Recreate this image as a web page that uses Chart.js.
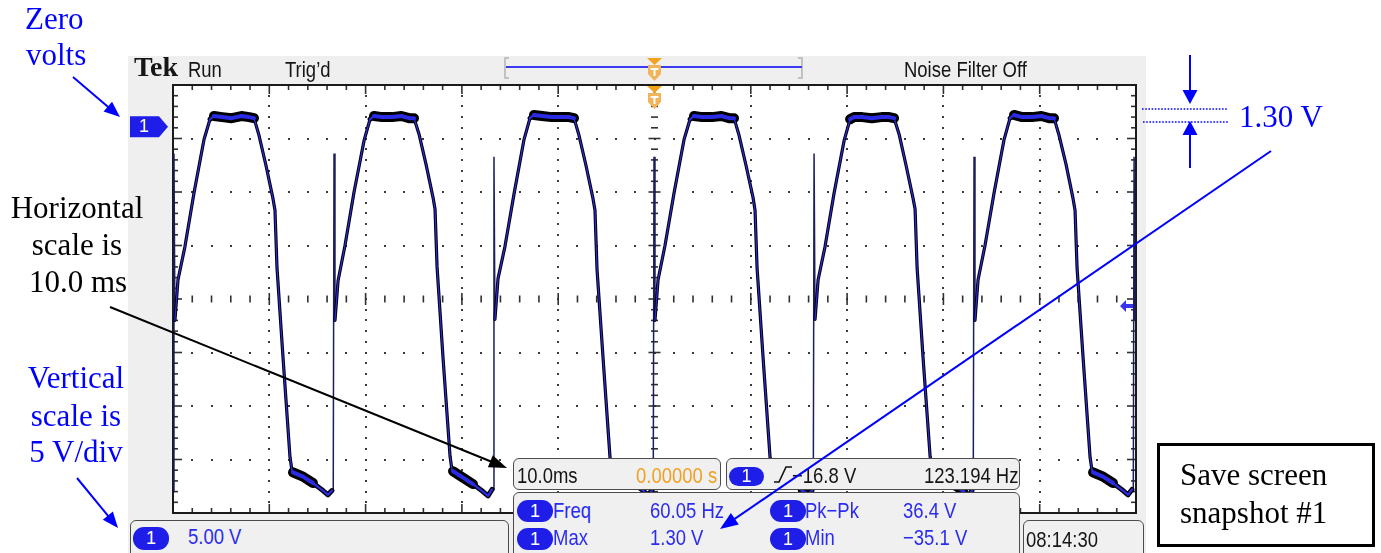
<!DOCTYPE html>
<html><head><meta charset="utf-8"><title>Tek scope snapshot</title>
<script src="https://cdn.jsdelivr.net/npm/chart.js@4.4.1/dist/chart.umd.min.js"></script>
<style>
html,body{margin:0;padding:0;background:#fff;}
#wrap{position:relative;width:1381px;height:553px;overflow:hidden;background:#fff;}
.abs{position:absolute;}
#panel{left:128px;top:56px;width:1018px;height:497px;background:#efefef;z-index:0;}
#c{position:absolute;left:0;top:0;z-index:1;}
.box{position:absolute;background:#f0f0f0;border:1.5px solid #4c4c4c;border-radius:6px;box-sizing:border-box;z-index:2;}
.t{position:absolute;white-space:nowrap;font-family:"Liberation Sans",Arial,sans-serif;font-size:21px;line-height:21px;transform:scale(.88,1.06);transform-origin:0 0;z-index:4;color:#151515;}
.tr{transform-origin:100% 0;}
.b{color:#2b2bf0;}
.o{color:#f0a020;}
.oval{position:absolute;background:#1e1ee8;border-radius:11px;color:#fff;font-family:"Liberation Sans",Arial,sans-serif;font-size:18px;text-align:center;z-index:4;}
.ann{position:absolute;white-space:nowrap;font-family:"Liberation Serif","Times New Roman",serif;font-size:31px;line-height:31px;z-index:7;}
.ab{color:#0000ff;}
.ak{color:#000;}
#ov{position:absolute;left:0;top:0;z-index:6;}
</style></head>
<body>
<div id="wrap">
  <div id="panel" class="abs"></div>
  <canvas id="c" width="1381" height="553"></canvas>

  <!-- scope readout boxes -->
  <div class="box" style="left:130px;top:520px;width:379px;height:42px"></div>
  <div class="box" style="left:513px;top:458px;width:208px;height:32px"></div>
  <div class="box" style="left:726px;top:458px;width:294px;height:32px"></div>
  <div class="box" style="left:513px;top:492px;width:507px;height:70px"></div>
  <div class="box" style="left:1023px;top:520px;width:121px;height:42px"></div>

  <div class="oval" style="left:133px;top:527px;width:36px;height:23px;line-height:23px">1</div>
  <div class="oval" style="left:517px;top:500px;width:36px;height:22px;line-height:22px">1</div>
  <div class="oval" style="left:517px;top:528px;width:36px;height:22px;line-height:22px">1</div>
  <div class="oval" style="left:770px;top:500px;width:36px;height:22px;line-height:22px">1</div>
  <div class="oval" style="left:770px;top:528px;width:36px;height:22px;line-height:22px">1</div>
  <div class="oval" style="left:729px;top:467px;width:35px;height:19px;line-height:19px">1</div>
  <div id="chMark" class="oval" style="left:130px;top:116px;width:28px;height:21px;line-height:21px;background:transparent;border-radius:0">1</div>

  <!-- top bar -->
  <div class="abs" style="left:134px;top:52.5px;font:bold 28px/28px 'Liberation Serif',serif;color:#161616;z-index:4">Tek</div>
  <div class="t" style="left:188px;top:58.2px">Run</div>
  <div class="t" style="left:285px;top:58.2px">Trig’d</div>
  <div class="t" style="left:904px;top:58.2px">Noise Filter Off</div>

  <!-- readouts -->
  <div class="t" style="left:517px;top:464.2px">10.0ms</div>
  <div class="t tr o" style="right:664px;top:464.2px">0.00000 s</div>
  <div class="t" style="left:792px;top:464.2px">−16.8 V</div>
  <div class="t tr" style="right:363px;top:464.2px">123.194 Hz</div>
  <div class="t b" style="left:188px;top:525.2px">5.00 V</div>
  <div class="t b" style="left:553px;top:499.2px">Freq</div>
  <div class="t b" style="left:650px;top:499.2px">60.05 Hz</div>
  <div class="t b" style="left:805px;top:499.2px">Pk−Pk</div>
  <div class="t b" style="left:903px;top:499.2px">36.4 V</div>
  <div class="t b" style="left:553px;top:526.2px">Max</div>
  <div class="t b" style="left:650px;top:526.2px">1.30 V</div>
  <div class="t b" style="left:805px;top:526.2px">Min</div>
  <div class="t b" style="left:903px;top:526.2px">−35.1 V</div>
  <div class="t" style="left:1026px;top:528.2px">08:14:30</div>

  <!-- annotations -->
  <div class="ann ab" style="left:25px;top:3.1px">Zero</div>
  <div class="ann ab" style="left:26px;top:39.1px">volts</div>
  <div class="ann ak" style="left:-73px;width:300px;text-align:center;top:192.1px">Horizontal</div>
  <div class="ann ak" style="left:-73px;width:300px;text-align:center;top:229.1px">scale is</div>
  <div class="ann ak" style="left:-72px;width:300px;text-align:center;top:266.1px">10.0 ms</div>
  <div class="ann ab" style="left:-74px;width:300px;text-align:center;top:362.1px">Vertical</div>
  <div class="ann ab" style="left:-74px;width:300px;text-align:center;top:400.1px">scale is</div>
  <div class="ann ab" style="left:-74px;width:300px;text-align:center;top:436.1px">5 V/div</div>
  <div class="ann ab" style="left:1239px;top:101.1px">1.30 V</div>
  <div class="abs" style="left:1157px;top:443px;width:218px;height:104px;border:3px solid #000;box-sizing:border-box;background:#fff;z-index:5"></div>
  <div class="ann ak" style="left:1180px;top:459.1px">Save screen</div>
  <div class="ann ak" style="left:1180px;top:497.1px">snapshot #1</div>

  <svg id="ov" width="1381" height="553"></svg>
</div>
<script>
// ---------- axis setup (time in ms relative to trigger, volts) ----------
const xMajorTicks = [-50, -40, -30, -20, -10, 0, 10, 20, 30, 40, 50];
const yMajorTicks = [-36, -31, -26, -21, -16, -11, -6, -1, 4];
const minorPerDiv = 5;
const triggerTimeMs = 0;
const triggerLevelV = -16.8;
const groundLevelV = 0;
const centerLevelV = -16;

// ---------- channel 1 trace, read cycle by cycle ----------
const c1T = [-49.80,-49.48,-48.76,-47.82,-46.78,-46.16,-45.75,-44.90,-43.90,-42.90,-42.10,-41.59,-41.07,-40.35,-39.62,-39.41,-39.20,-38.58,-37.85,-37.65,-37.54,-36.50,-35.47,-34.43,-33.91,-33.49];
const c1V = [-18.0,-14.2,-11.1,-6.1,-1.1,0.8,1.1,1.0,0.9,1.1,1.0,0.9,-0.7,-3.5,-6.6,-7.7,-13.1,-21.4,-30.8,-32.0,-32.2,-32.6,-33.2,-33.9,-34.3,-33.9];
const c2T = [-33.18,-32.86,-32.14,-31.20,-30.16,-29.54,-29.13,-28.28,-27.28,-26.28,-25.48,-24.97,-24.45,-23.73,-23.00,-22.79,-22.58,-21.96,-21.23,-21.03,-20.92,-19.88,-18.85,-17.81,-17.29,-16.87];
const c2V = [-18.0,-14.3,-11.0,-6.0,-1.2,0.8,1.1,1.0,1.0,1.1,0.9,0.9,-0.6,-3.4,-6.5,-7.6,-13.0,-21.5,-30.7,-32.0,-32.1,-32.7,-33.3,-34.0,-34.4,-33.8];
const c3T = [-16.57,-16.25,-15.53,-14.59,-13.55,-12.93,-12.52,-11.67,-10.67,-9.67,-8.87,-8.36,-7.84,-7.12,-6.39,-6.18,-5.97,-5.35,-4.62,-4.42,-4.31,-3.27,-2.24,-1.20,-0.68,-0.26];
const c3V = [-17.9,-14.1,-11.1,-6.2,-1.1,0.9,1.2,1.1,1.0,1.0,1.0,0.9,-0.7,-3.5,-6.6,-7.7,-13.2,-21.4,-30.8,-31.9,-32.2,-32.6,-33.2,-33.9,-34.3,-33.9];
const c4T = [0.05,0.37,1.09,2.03,3.07,3.69,4.10,4.95,5.95,6.95,7.75,8.26,8.78,9.50,10.23,10.44,10.65,11.27,12.00,12.20,12.31,13.35,14.38,15.42,15.94,16.36];
const c4V = [-18.0,-14.2,-11.0,-6.1,-1.1,0.8,1.1,1.0,1.0,1.1,0.9,0.9,-0.7,-3.5,-6.5,-7.7,-13.1,-21.4,-30.8,-32.0,-32.2,-32.7,-33.2,-34.0,-34.3,-33.9];
const c5T = [16.67,16.99,17.71,18.65,19.69,20.31,20.72,21.57,22.57,23.57,24.37,24.88,25.40,26.12,26.85,27.06,27.27,27.89,28.62,28.82,28.93,29.97,31.00,32.04,32.56,32.98];
const c5V = [-17.9,-14.2,-11.1,-6.1,-1.2,0.8,1.0,1.0,0.9,1.0,1.0,0.9,-0.6,-3.5,-6.6,-7.6,-13.1,-21.5,-30.7,-32.0,-32.2,-32.6,-33.3,-33.9,-34.4,-33.9];
const c6T = [33.28,33.60,34.32,35.26,36.30,36.92,37.33,38.18,39.18,40.18,40.98,41.49,42.01,42.73,43.46,43.67,43.88,44.50,45.23,45.43,45.54,46.58,47.61,48.65,49.17,49.59];
const c6V = [-18.0,-14.2,-11.0,-6.1,-1.1,0.9,1.2,1.0,1.0,1.1,0.9,0.9,-0.7,-3.4,-6.6,-7.7,-13.1,-21.4,-30.8,-32.0,-32.2,-32.6,-33.2,-33.9,-34.3,-33.8];

// thin switching spikes at each cycle start
const spikeTimeMs = [-49.90, -33.28, -16.67, -0.05, 16.57, 33.18, 49.80];
const spikeFromV  = [-34.0, -33.9, -33.8, -33.9, -33.9, -33.9, -33.8];
const spikePeakV  = [-2.4, -2.4, -2.7, -2.7, -2.4, -2.7, -2.7];
const spikeToV    = [-18.0, -18.0, -17.9, -18.0, -17.9, -18.0, -18.0];

// ---------- build datasets ----------
const cycles = [[c1T,c1V],[c2T,c2V],[c3T,c3V],[c4T,c4V],[c5T,c5V],[c6T,c6V]];
function tracePoints(){
  const pts = [];
  cycles.forEach(([t,v])=>{
    t.forEach((tt,i)=>pts.push({x:tt, y:v[i]}));
    pts.push({x:t[t.length-1], y:null});
  });
  return pts;
}
const spikePts = [];
spikeTimeMs.forEach((t,i)=>{
  spikePts.push({x:t-0.08, y:spikeFromV[i]}, {x:t, y:spikePeakV[i]}, {x:t+0.1, y:spikeToV[i]}, {x:t+0.1, y:null});
});
function segW(flat, mid, steep){
  return c => {
    const dx = Math.abs(c.p1.x - c.p0.x), dy = Math.abs(c.p1.y - c.p0.y);
    const a = Math.atan2(dy, dx);
    return a < 0.6 ? flat : (a < 1.2 ? mid : steep);
  };
}

function line(ctx,x1,y1,x2,y2){ctx.beginPath();ctx.moveTo(x1,y1);ctx.lineTo(x2,y2);ctx.stroke();}

const graticule = {
  id:'graticule',
  beforeDatasetsDraw(chart){
    const {ctx, chartArea:a, scales:{x,y}} = chart;
    ctx.save();
    ctx.fillStyle = '#ffffff';
    ctx.fillRect(a.left, a.top, a.right-a.left, a.bottom-a.top);
    const xs = xMajorTicks.map(v=>x.getPixelForValue(v));
    const ys = yMajorTicks.map(v=>y.getPixelForValue(v));
    const xMin = [], yMin = [];
    for (let i=0;i<xs.length-1;i++) for (let k=0;k<minorPerDiv;k++) xMin.push(xs[i]+(xs[i+1]-xs[i])*k/minorPerDiv);
    xMin.push(xs[xs.length-1]);
    for (let i=0;i<ys.length-1;i++) for (let k=0;k<minorPerDiv;k++) yMin.push(ys[i]+(ys[i+1]-ys[i])*k/minorPerDiv);
    yMin.push(ys[ys.length-1]);
    const cx = x.getPixelForValue(triggerTimeMs), cy = y.getPixelForValue(centerLevelV);
    ctx.fillStyle = '#3a3a3a';
    xs.slice(1,-1).forEach(px=>{
      if (Math.abs(px-cx)<1) return;
      yMin.forEach(py=>ctx.fillRect(Math.round(px)-1, Math.round(py)-1, 2, 2));
    });
    ys.slice(1,-1).forEach(py=>{
      if (Math.abs(py-cy)<1) return;
      xMin.forEach(px=>ctx.fillRect(Math.round(px)-1, Math.round(py)-1, 2, 2));
    });
    ctx.strokeStyle = '#303030'; ctx.lineWidth = 1.6;
    xMin.forEach((px,i)=>{ const h = (i%minorPerDiv===0)?6:3.5; line(ctx,px,cy-h,px,cy+h); });
    yMin.forEach((py,i)=>{ const h = (i%minorPerDiv===0)?6:3.5; line(ctx,cx-h,py,cx+h,py); });
    xMin.forEach((px,i)=>{ const L = (i%minorPerDiv===0)?9:5; line(ctx,px,a.top,px,a.top+L); line(ctx,px,a.bottom,px,a.bottom-L); });
    yMin.forEach((py,i)=>{ const L = (i%minorPerDiv===0)?9:5; line(ctx,a.left,py,a.left+L,py); line(ctx,a.right,py,a.right-L,py); });
    ctx.lineWidth = 2; ctx.strokeStyle = '#1a1a1a';
    ctx.strokeRect(a.left, a.top, a.right-a.left, a.bottom-a.top);
    ctx.restore();
  },
  afterDraw(chart){
    const {ctx, chartArea:a, scales:{x,y}} = chart;
    ctx.save();
    // record-view bar
    ctx.strokeStyle = '#b4b4b4'; ctx.lineWidth = 1.5;
    ctx.beginPath(); ctx.moveTo(509,58); ctx.lineTo(505,58); ctx.lineTo(505,78); ctx.lineTo(509,78); ctx.stroke();
    ctx.beginPath(); ctx.moveTo(798,58); ctx.lineTo(802,58); ctx.lineTo(802,78); ctx.lineTo(798,78); ctx.stroke();
    ctx.strokeStyle = '#3a3aee'; ctx.lineWidth = 2; line(ctx,506,67,802,67);
    // trigger position markers
    const tx = x.getPixelForValue(triggerTimeMs);
    [58, a.top+1].forEach(top=>{
      ctx.fillStyle = '#f3a21c';
      ctx.beginPath(); ctx.moveTo(tx-7.5,top); ctx.lineTo(tx+7.5,top); ctx.lineTo(tx,top+7); ctx.closePath(); ctx.fill();
      ctx.fillStyle = '#f2b458';
      ctx.beginPath(); ctx.moveTo(tx-6.5,top+7); ctx.lineTo(tx+6.5,top+7); ctx.lineTo(tx+6.5,top+16); ctx.lineTo(tx,top+23); ctx.lineTo(tx-6.5,top+16); ctx.closePath(); ctx.fill();
      ctx.fillStyle = '#ffffff';
      ctx.fillRect(tx-4, top+10, 8, 2); ctx.fillRect(tx-1, top+10, 2, 8);
    });
    // channel 1 ground marker
    const gy = y.getPixelForValue(groundLevelV) - 1;
    ctx.fillStyle = '#1e1ee8';
    ctx.beginPath(); ctx.moveTo(130,gy-10.5); ctx.lineTo(159,gy-10.5); ctx.lineTo(168,gy); ctx.lineTo(159,gy+10.5); ctx.lineTo(130,gy+10.5); ctx.closePath(); ctx.fill();
    // trigger level marker
    const ty = y.getPixelForValue(triggerLevelV) - 1.5;
    ctx.fillStyle = '#3535ee';
    ctx.beginPath(); ctx.moveTo(1120,ty); ctx.lineTo(1126,ty-6); ctx.lineTo(1126,ty-2); ctx.lineTo(1133,ty-2); ctx.lineTo(1133,ty+2); ctx.lineTo(1126,ty+2); ctx.lineTo(1126,ty+6); ctx.closePath(); ctx.fill();
    ctx.restore();
    document.getElementById('chMark').style.top = (gy-10.5)+'px';
  }
};

const chart = new Chart(document.getElementById('c'), {
  type:'scatter',
  data:{datasets:[
    {label:'CH1', data:tracePoints(), showLine:true, borderColor:'#2b2be6', borderWidth:2,
     segment:{borderWidth:segW(4,2.2,1.2)}, borderCapStyle:'round', borderJoinStyle:'round',
     pointRadius:0, spanGaps:false, tension:0, order:0},
    {label:'CH1 outline', data:tracePoints(), showLine:true, borderColor:'#000000', borderWidth:4,
     segment:{borderWidth:segW(10,5,3.2)}, borderCapStyle:'round', borderJoinStyle:'round',
     pointRadius:0, spanGaps:false, tension:0, order:1},
    {label:'CH1 spikes', data:spikePts, showLine:true, borderColor:'#1d1d5c', borderWidth:1.5,
     pointRadius:0, spanGaps:false, tension:0, order:2}
  ]},
  options:{
    responsive:false, animation:false, events:[],
    layout:{padding:{left:173, right:245, top:85, bottom:40}},
    scales:{
      x:{type:'linear', min:xMajorTicks[0], max:xMajorTicks[xMajorTicks.length-1], display:false},
      y:{type:'linear', min:yMajorTicks[0], max:yMajorTicks[yMajorTicks.length-1], display:false}
    },
    plugins:{legend:{display:false}, tooltip:{enabled:false}}
  },
  plugins:[graticule]
});

// ---------- annotation arrows ----------
const svg = document.getElementById('ov'), NS = 'http://www.w3.org/2000/svg';
function el(name, attrs){const e=document.createElementNS(NS,name); for (const k in attrs) e.setAttribute(k,attrs[k]); svg.appendChild(e); return e;}
function arrow(x1,y1,x2,y2,hl,hw,color,w){
  const dx=x2-x1, dy=y2-y1, L=Math.hypot(dx,dy), ux=dx/L, uy=dy/L;
  const bx=x2-ux*hl, by=y2-uy*hl;
  el('line',{x1:x1,y1:y1,x2:bx+ux*2,y2:by+uy*2,stroke:color,'stroke-width':w});
  el('polygon',{points:`${x2},${y2} ${bx-uy*hw/2},${by+ux*hw/2} ${bx+uy*hw/2},${by-ux*hw/2}`,fill:color});
}
arrow(73,77,120,117,16,13,'#0000ff',2);
arrow(110,307,507,468,18,13,'#000000',2);
arrow(77,478,118,528,16,13,'#0000ff',2);
arrow(1190,55,1190,104,14,15,'#0000ff',2);
arrow(1190,168,1190,121,14,15,'#0000ff',2);
arrow(1271,151,720,529,18,14,'#0000ff',2);
el('line',{x1:1142,y1:109,x2:1228,y2:109,stroke:'#0000ff','stroke-width':1.6,'stroke-dasharray':'1.6 1.6'});
el('line',{x1:1143,y1:122,x2:1229,y2:122,stroke:'#0000ff','stroke-width':1.6,'stroke-dasharray':'1.6 1.6'});
el('polyline',{points:'774,482 779,482 786,467 792,467',fill:'none',stroke:'#111','stroke-width':1.6});
</script>
</body></html>
